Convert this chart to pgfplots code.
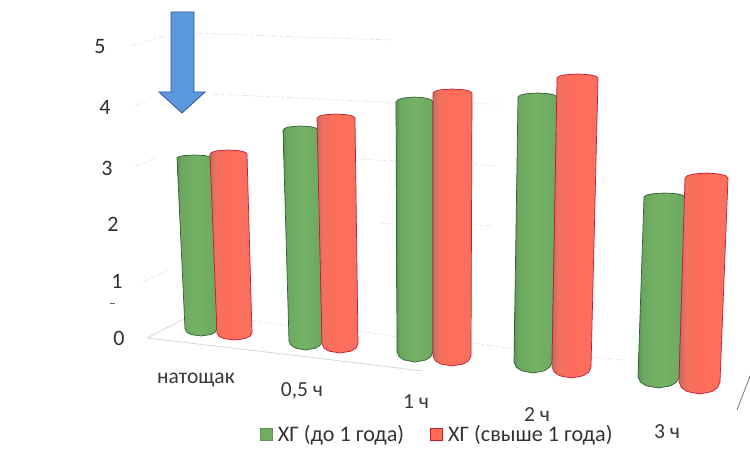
\documentclass[border=0pt]{standalone}
\usepackage{pgfplots}
\pgfplotsset{compat=1.18}
\usepackage{fontspec}
\setmainfont{Carlito}

\definecolor{gOut}{RGB}{50,95,50}
\definecolor{rOut}{RGB}{200,25,50}
\definecolor{gFill}{RGB}{112,172,98}
\definecolor{rFill}{RGB}{255,108,88}
\definecolor{arrowFill}{RGB}{92,152,220}
\definecolor{arrowOut}{RGB}{40,85,165}
\definecolor{wall}{RGB}{228,228,228}

% Cylinder bodies: a narrow darker band on the left edge
\pgfdeclarehorizontalshading{greenCyl}{100bp}{
  rgb(0bp)=(0.36,0.58,0.33);
  rgb(25bp)=(0.36,0.58,0.33);
  rgb(30bp)=(0.42,0.66,0.37);
  rgb(50bp)=(0.46,0.70,0.40);
  rgb(75bp)=(0.42,0.66,0.38);
  rgb(100bp)=(0.42,0.66,0.38)}
\pgfdeclarehorizontalshading{redCyl}{100bp}{
  rgb(0bp)=(0.76,0.43,0.39);
  rgb(25bp)=(0.76,0.43,0.39);
  rgb(32bp)=(0.95,0.44,0.37);
  rgb(50bp)=(1.00,0.43,0.35);
  rgb(75bp)=(0.97,0.44,0.38);
  rgb(100bp)=(0.97,0.44,0.38)}

\tikzset{
  greenbar/.style={draw=gOut, line width=0.7pt, shade, shading=greenCyl, mark=none, line join=round},
  redbar/.style={draw=rOut, line width=0.7pt, shade, shading=redCyl, mark=none, line join=round},
  wallline/.style={draw=wall, line width=0.7pt, mark=none, dash pattern=on 7pt off 2pt on 3pt off 3pt},
  lab/.style={font=\fontsize{22}{25}\selectfont, text=black!82, inner sep=0pt},
  cat/.style={font=\fontsize{21.5}{24}\selectfont, text=black!78, inner sep=0pt},
}

\begin{document}
\begin{tikzpicture}[x=1pt,y=1pt]
\useasboundingbox (0,0) rectangle (750pt,460pt);
\begin{axis}[
  at={(0,0)}, anchor=south west,
  width=750pt, height=460pt, scale only axis,
  xmin=0, xmax=750, ymin=0, ymax=460, y dir=reverse,
  hide axis, clip=false,
  legend columns=2,
  legend style={at={(axis cs:260,445)}, anchor=south west, draw=none, fill=none,
    font=\fontsize{22.2}{25}\selectfont, text=black!80,
    inner sep=0pt, outer sep=0pt, /tikz/every even column/.append style={column sep=24pt}},
  legend image code/.code={\draw[#1] (0cm,-5.8pt) rectangle (11.5pt,5.8pt);
    \path (15.5pt,0pt);},
]
% Back wall and floor of the 3D frame; wall levels carry the scale 0..5
\addplot[wallline, forget plot] coordinates {(130,46)(165,36)};
\addplot[wallline, forget plot] coordinates {(196,33)(300,37)(392,40)};
\addplot[wallline, forget plot] coordinates {(135,106)(150,100)};
\addplot[wallline, forget plot] coordinates {(212,94)(300,98)(400,103)(500,104)};
\addplot[wallline, forget plot] coordinates {(135,167)(155,158)};
\addplot[wallline, forget plot] coordinates {(360,159)(395,161)(480,165)(496,166)};
\addplot[wallline, forget plot] coordinates {(380,223)(395,224)(478,225)(492,226)};
\addplot[wallline, forget plot] coordinates {(143,282)(168,270)};
\addplot[draw=black!16, line width=0.8pt, mark=none, forget plot] coordinates {(147,338)(190,316)};
\addplot[draw=black!16, line width=0.8pt, mark=none, forget plot] coordinates {(147,338)(300,356)(423,371)};
\addplot[wallline, forget plot] coordinates {(250,320)(290,326)};
\addplot[wallline, forget plot] coordinates {(358,331)(397,337)};
\addplot[wallline, forget plot] coordinates {(472,343)(514,349)};
\addplot[wallline, forget plot] coordinates {(592,357)(624,360)};
\addplot[draw=black!55, line width=0.8pt, mark=none, forget plot] coordinates {(737,410)(750,376)};
\addplot[draw=black!60, line width=0.9pt, mark=none, forget plot] coordinates {(110,303)(115,303)};

% Natoshchak
\addplot[greenbar, forget plot] coordinates {(185,329)(177,158)(179.1,156.6)(184,155.6)(194.5,155)(205,155.6)(209.9,156.6)(212,158)
  (217,329)(215.1,332.3)(210.6,334.6)(201,336)(191.4,334.6)(186.9,332.3)(185,329)};
\addplot[redbar, forget plot] coordinates {(217,333)(210,154)(212.2,152.1)(217.4,150.8)(228.5,150)(239.6,150.8)(244.8,152.1)(247,154)
  (252,333)(249.9,336.3)(245,338.6)(234.5,340)(224,338.6)(219.1,336.3)(217,333)};
% 0.5 h
\addplot[greenbar, forget plot] coordinates {(289,341)(283,130)(285.1,128.1)(290,126.8)(300.5,126)(311,126.8)(315.9,128.1)(318,130)
  (322,341)(320,345.3)(315.4,348.2)(305.5,350)(295.6,348.2)(291,345.3)(289,341)};
\addplot[redbar, forget plot] coordinates {(322,344)(317,118)(319.3,116.1)(324.6,114.8)(336,114)(347.4,114.8)(352.7,116.1)(355,118)
  (358,344)(355.8,348.3)(350.8,351.2)(340,353)(329.2,351.2)(324.2,348.3)(322,344)};
% 1 h
\addplot[greenbar, forget plot] coordinates {(397,352)(396,102)(398.2,99.6)(403.4,98)(414.5,97)(425.6,98)(430.8,99.6)(433,102)
  (433,352)(430.8,356.8)(425.8,360)(415,362)(404.2,360)(399.2,356.8)(397,352)};
\addplot[redbar, forget plot] coordinates {(433,356)(433,93)(435.3,91.1)(440.8,89.8)(452.5,89)(464.2,89.8)(469.7,91.1)(472,93)
  (471,356)(468.7,360.8)(463.4,364)(452,366)(440.6,364)(435.3,360.8)(433,356)};
% 2 h
\addplot[greenbar, forget plot] coordinates {(514,362)(518,97)(520.3,95.1)(525.8,93.8)(537.5,93)(549.2,93.8)(554.7,95.1)(557,97)
  (552,362)(549.7,367.2)(544.4,370.8)(533,373)(521.6,370.8)(516.3,367.2)(514,362)};
\addplot[redbar, forget plot] coordinates {(552,367)(557,78)(559.5,76.1)(565.2,74.8)(577.5,74)(589.8,74.8)(595.5,76.1)(598,78)
  (591,367)(588.7,372.2)(583.2,375.8)(571.5,378)(559.8,375.8)(554.3,372.2)(552,367)};
% 3 h
\addplot[greenbar, forget plot] coordinates {(638,377)(644,197)(646.5,195.1)(652.2,193.8)(664.5,193)(676.8,193.8)(682.5,195.1)(685,197)
  (679,377)(676.5,382.2)(670.8,385.8)(658.5,388)(646.2,385.8)(640.5,382.2)(638,377)};
\addplot[redbar, forget plot] coordinates {(679,382)(685,178)(687.6,175.6)(693.6,174)(706.5,173)(719.4,174)(725.4,175.6)(728,178)
  (720,382)(717.5,387.7)(711.8,391.6)(699.5,394)(687.2,391.6)(681.5,387.7)(679,382)};

% Meal marker
\addplot[fill=arrowFill, draw=arrowOut, line width=0.8pt, mark=none, forget plot]
  coordinates {(171,12)(194,12)(194,92)(205,92)(182,113)(159,92)(171,92)(171,12)};

% Scale numbers follow the slanted wall edge
\node[lab] at (axis cs:100,47) {5};
\node[lab] at (axis cs:105,107) {4};
\node[lab] at (axis cs:107,168) {3};
\node[lab] at (axis cs:113,224) {2};
\node[lab] at (axis cs:117,281) {1};
\node[lab] at (axis cs:119,338) {0};

% Category names
\node[cat] at (axis cs:196,380) {натощак};
\node[cat] at (axis cs:302,391) {0,5 ч};
\node[cat] at (axis cs:416,402) {1 ч};
\node[cat] at (axis cs:537,415) {2 ч};
\node[cat] at (axis cs:667,432) {3 ч};

\addlegendimage{fill=gFill, draw=gFill!85!black}
\addlegendentry{ХГ (до 1 года)}
\addlegendimage{fill=rFill, draw=rOut}
\addlegendentry{ХГ (свыше 1 года)}
\end{axis}
\end{tikzpicture}
\end{document}
